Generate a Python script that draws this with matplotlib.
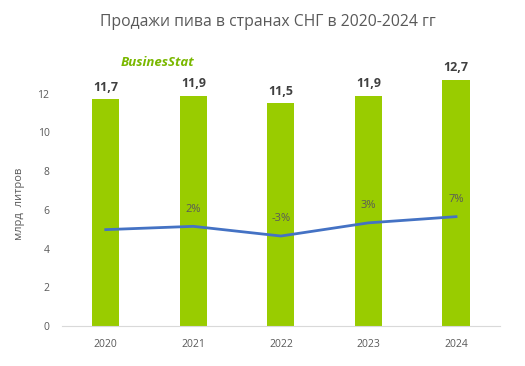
import numpy as np
import matplotlib.pyplot as plt

years = ['2020', '2021', '2022', '2023', '2024']
sales = [11.7, 11.9, 11.5, 11.9, 12.7]
growth = [0.3, 2, -3, 3.8, 7]
growth_labels = ['', '2%', '-3%', '3%', '7%']

plt.rcParams['font.family'] = ['Open Sans', 'DejaVu Sans']

fig = plt.figure(figsize=(5.25, 3.66), dpi=100)
ax = fig.add_axes([0.118, 0.109, 0.834, 0.741])
x = np.arange(len(years))

ax.bar(x, sales, width=0.31, color='#99CC00', zorder=2)
for xi, v in zip(x, sales):
    ax.text(xi, v + 0.3, f"{v:.1f}".replace('.', ','), ha='center', va='bottom',
            fontsize=9, fontweight='bold', color='#404040')

ax.set_xlim(-0.5, 4.5)
ax.set_ylim(0, 14)
ax.set_yticks(range(0, 13, 2))
ax.set_xticks(x)
ax.set_xticklabels(years)
ax.tick_params(length=0, labelsize=7.5, labelcolor='#595959', pad=9)
for s in ['top', 'right', 'left']:
    ax.spines[s].set_visible(False)
ax.spines['bottom'].set_color('#D9D9D9')
ax.set_ylabel('млрд  литров', fontsize=8, color='#595959')
ax.yaxis.set_label_coords(-0.085, 0.45)

# growth line on hidden secondary axis
ax2 = ax.twinx()
ax2.set_ylim(-49.5, 90.5)
ax2.plot(x, growth, color='#4472C4', linewidth=2, zorder=3)
for xi, g, lab in zip(x, growth, growth_labels):
    ax2.text(xi, g + 6, lab, ha='center', va='bottom', fontsize=8, color='#595959')
ax2.axis('off')

fig.text(0.51, 0.94, 'Продажи пива в странах СНГ в 2020-2024 гг', ha='center', va='center',
         fontsize=11.3, color='#595959')
fig.text(0.229, 0.83, 'BusinesStat', ha='left', va='center', fontsize=9.5,
         fontweight='bold', style='italic', color='#7AB800')

fig.savefig('out.png', dpi=100)
